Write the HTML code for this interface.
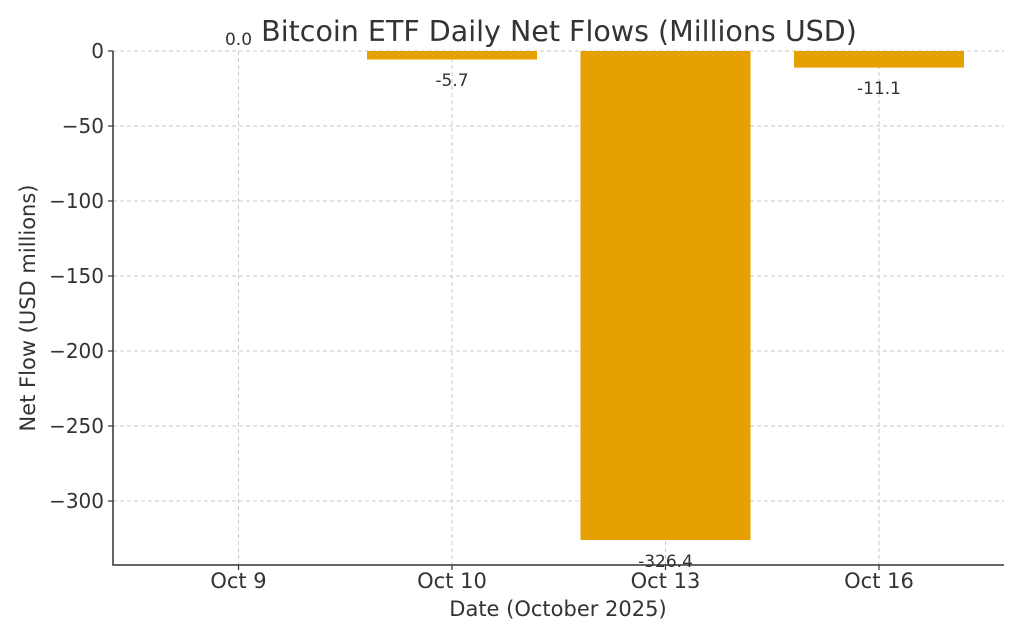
<!DOCTYPE html>
<html><head><meta charset="utf-8"><style>
body{margin:0;background:#fff}
svg{display:block;font-family:"DejaVu Sans","Liberation Sans",sans-serif}
</style></head><body>
<svg width="1024" height="640" viewBox="0 0 1024 640" xmlns="http://www.w3.org/2000/svg">
<rect width="1024" height="640" fill="#fff"/>
<g stroke="#c8c8c8" stroke-width="1" stroke-dasharray="4,3">
<line x1="113" x2="1004" y1="51" y2="51"/>
<line x1="113" x2="1004" y1="126" y2="126"/>
<line x1="113" x2="1004" y1="201" y2="201"/>
<line x1="113" x2="1004" y1="276" y2="276"/>
<line x1="113" x2="1004" y1="351" y2="351"/>
<line x1="113" x2="1004" y1="426" y2="426"/>
<line x1="113" x2="1004" y1="501" y2="501"/>
<line x1="238.5" x2="238.5" y1="51" y2="565"/>
<line x1="452" x2="452" y1="51" y2="565"/>
<line x1="665.5" x2="665.5" y1="51" y2="565"/>
<line x1="879" x2="879" y1="51" y2="565"/>
</g>
<g fill="#e6a000">
<rect x="367" y="51" width="170" height="8.5"/>
<rect x="580.5" y="51" width="170" height="489"/>
<rect x="794" y="51" width="170" height="16.6"/>
</g>
<g stroke="#333" stroke-width="1.5" fill="none">
<line x1="113" x2="113" y1="51" y2="565"/>
<line x1="112.3" x2="1004" y1="565" y2="565"/>
</g>
<g stroke="#333" stroke-width="1.2">
<line x1="108" x2="113" y1="51" y2="51"/><line x1="108" x2="113" y1="126" y2="126"/>
<line x1="108" x2="113" y1="201" y2="201"/><line x1="108" x2="113" y1="276" y2="276"/>
<line x1="108" x2="113" y1="351" y2="351"/><line x1="108" x2="113" y1="426" y2="426"/>
<line x1="108" x2="113" y1="501" y2="501"/>
<line x1="238.5" x2="238.5" y1="565" y2="570"/><line x1="452" x2="452" y1="565" y2="570"/>
<line x1="665.5" x2="665.5" y1="565" y2="570"/><line x1="879" x2="879" y1="565" y2="570"/>
</g>
<g fill="#333" font-size="20" text-anchor="end">
<text x="104" y="58">0</text><text x="104" y="133">−50</text>
<text x="104" y="208">−100</text><text x="104" y="283">−150</text>
<text x="104" y="358">−200</text><text x="104" y="433">−250</text>
<text x="104" y="508">−300</text>
</g>
<g fill="#333" font-size="21" text-anchor="middle">
<text x="238.5" y="588">Oct 9</text><text x="452" y="588">Oct 10</text>
<text x="665.5" y="588">Oct 13</text><text x="879" y="588">Oct 16</text>
<text x="558" y="616">Date (October 2025)</text>
<text transform="translate(35 308) rotate(-90)">Net Flow (USD millions)</text>
</g>
<text x="559" y="41" font-size="28.5" fill="#333" text-anchor="middle">Bitcoin ETF Daily Net Flows (Millions USD)</text>
<g fill="#333" font-size="17" text-anchor="middle">
<text x="238.5" y="45">0.0</text>
<text x="452" y="86">-5.7</text>
<text x="665.5" y="567">-326.4</text>
<text x="879" y="94">-11.1</text>
</g>
</svg>
</body></html>
